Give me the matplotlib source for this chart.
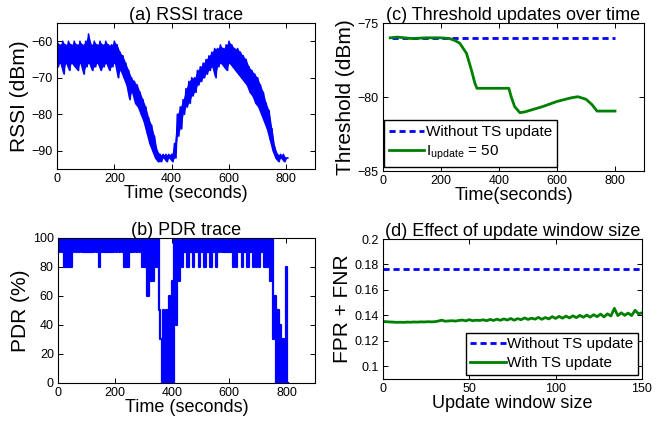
import numpy as np
import matplotlib
matplotlib.use("Agg")
import matplotlib.pyplot as plt

plt.rcParams["font.family"] = ["Liberation Sans", "DejaVu Sans"]
plt.rcParams["mathtext.fontset"] = "custom"
plt.rcParams["mathtext.rm"] = "Liberation Sans"

BLUE = "#0000ff"
GREEN = "#008000"

# (a) RSSI trace: upper / lower envelope read every 10 s
rssi_t = list(range(0, 801, 10))
rssi_hi = [-60, -61, -60, -61, -60, -61, -60, -61, -60, -61,
           -60, -58, -61, -60, -61, -60, -61, -60, -61, -61,
           -60, -61, -63, -64, -66, -68, -70, -71, -72, -74,
           -76, -78, -81, -83, -86, -90, -91, -91, -91, -91,
           -91, -88, -80, -78, -76, -73, -71, -70, -70, -68,
           -67, -66, -65, -64, -63, -62, -62, -61, -62, -61,
           -60, -61, -62, -62, -63, -64, -65, -67, -68, -69,
           -70, -72, -74, -77, -79, -84, -89, -91, -91, -91, -92]
rssi_lo = [-67, -66, -69, -66, -68, -66, -67, -68, -66, -69,
           -67, -66, -68, -67, -66, -68, -67, -66, -68, -67,
           -66, -70, -68, -70, -72, -76, -74, -77, -78, -80,
           -82, -85, -88, -90, -92, -93, -93, -92, -93, -92,
           -93, -92, -86, -84, -80, -78, -77, -75, -74, -72,
           -71, -70, -69, -68, -67, -70, -67, -66, -67, -68,
           -66, -67, -68, -69, -70, -71, -72, -74, -75, -77,
           -78, -80, -82, -84, -87, -90, -92, -93, -92, -93, -92]

# (b) PDR trace: upper / lower values read every 10 s
pdr_t = list(range(0, 801, 10))
pdr_hi = [100] * 36 + [30, 50, 50, 60, 70] + [100] * 35 + [60, 50, 40, 30, 80]
pdr_lo = [90, 90, 80, 80, 80, 90, 90, 90, 90, 90,
          90, 90, 90, 90, 80, 90, 90, 90, 90, 90,
          90, 90, 90, 80, 80, 90, 90, 90, 90, 80,
          80, 60, 70, 70, 80, 50, 0, 0, 0, 0,
          0, 40, 70, 80, 90, 80, 90, 80, 90, 80,
          90, 80, 90, 80, 90, 80, 90, 90, 90, 90,
          90, 80, 80, 90, 80, 90, 80, 90, 80, 80,
          80, 90, 80, 80, 70, 30, 0, 0, 0, 0, 0]

# (c) threshold over time
thr_t = [25, 50, 100, 150, 200, 230, 250, 265, 288, 305, 317, 324,
         380, 434, 442, 454, 472, 490, 550, 600, 650, 672, 700, 720, 738, 800]
thr_upd = [-76.0, -75.95, -76.05, -76.0, -76.0, -76.05, -76.2, -76.37, -77.05,
           -78.18, -79.07, -79.41, -79.41, -79.41, -79.98, -80.65, -81.06, -81.0,
           -80.65, -80.3, -80.05, -79.98, -80.15, -80.5, -80.95, -80.95]
thr_fixed_t = [30, 800]
thr_fixed = [-76.0, -76.0]

# (d) error vs update window size
win = list(range(0, 151, 2))
err_upd = [.1352, .1350, .1348, .1347, .1345, .1346, .1345, .1347, .1346, .1348,
           .1347, .1349, .1348, .1350, .1349, .1350, .1355, .1362, .1354, .1356,
           .1358, .1355, .1360, .1363, .1357, .1366, .1358, .1362, .1360, .1365,
           .1358, .1368, .1360, .1370, .1361, .1372, .1363, .1375, .1362, .1374,
           .1366, .1380, .1368, .1378, .1370, .1384, .1369, .1383, .1372, .1390,
           .1376, .1392, .1378, .1394, .1380, .1396, .1382, .1400, .1385, .1402,
           .1386, .1405, .1390, .1410, .1388, .1412, .1395, .1455, .1398, .1420,
           .1400, .1418, .1398, .1440, .1412, .1420]
err_fixed = 0.1763


def zigzag(t, hi, lo):
    # upper value at t, lower value half a bin later
    xs = np.column_stack([np.asarray(t), np.asarray(t) + 5]).ravel()
    ys = np.column_stack([hi, lo]).ravel()
    return xs, ys


def style(ax):
    ax.tick_params(direction="in", top=True, right=True, labelsize=9,
                   length=3.5, width=0.7, pad=3)
    for s in ax.spines.values():
        s.set_linewidth(0.8)


leg_kw = dict(fontsize=11, frameon=True, fancybox=False, edgecolor="black",
              framealpha=1, handlelength=2.3, handletextpad=0.1, borderpad=0.3,
              labelspacing=0.3, borderaxespad=0.1)

fig = plt.figure(figsize=(6.7, 4.21), dpi=100)

ax_a = fig.add_axes([0.0851, 0.5986, 0.385, 0.3468])
x, y = zigzag(rssi_t, rssi_hi, rssi_lo)
ax_a.fill_between(rssi_t, rssi_lo, rssi_hi, color=BLUE, lw=0)
ax_a.plot(x, y, color=BLUE, lw=1.2)
ax_a.set_xlim(0, 900)
ax_a.set_ylim(-95, -55)
ax_a.set_xticks([0, 200, 400, 600, 800])
ax_a.set_yticks([-90, -80, -70, -60])
ax_a.set_title("(a) RSSI trace", fontsize=13, pad=2)
ax_a.set_xlabel("Time (seconds)", fontsize=13, labelpad=0)
ax_a.set_ylabel("RSSI (dBm)", fontsize=15, labelpad=2)
style(ax_a)

ax_b = fig.add_axes([0.0866, 0.0903, 0.3836, 0.3444])
x, y = zigzag(pdr_t, pdr_hi, pdr_lo)
ax_b.plot(x, y, color=BLUE, lw=1.6, drawstyle="steps-mid")
ax_b.set_xlim(0, 900)
ax_b.set_ylim(0, 100)
ax_b.set_xticks([0, 200, 400, 600, 800])
ax_b.set_yticks([0, 20, 40, 60, 80, 100])
ax_b.set_title("(b) PDR trace", fontsize=13, pad=2)
ax_b.set_xlabel("Time (seconds)", fontsize=13, labelpad=0)
ax_b.set_ylabel("PDR (%)", fontsize=15, labelpad=2)
style(ax_b)

ax_c = fig.add_axes([0.5716, 0.5938, 0.3896, 0.3515])
ax_c.plot(thr_fixed_t, thr_fixed, "--", color=BLUE, lw=2, dashes=(2.2, 1.4),
          label="Without TS update")
ax_c.plot(thr_t, thr_upd, "-", color=GREEN, lw=2,
          label=r"$\mathregular{I_{update}}$ = 50")
ax_c.set_xlim(0, 900)
ax_c.set_ylim(-85, -75)
ax_c.set_xticks([0, 200, 400, 600, 800])
ax_c.set_yticks([-85, -80, -75])
ax_c.set_title("(c) Threshold updates over time", fontsize=13, pad=2)
ax_c.set_xlabel("Time(seconds)", fontsize=13, labelpad=0)
ax_c.set_ylabel("Threshold (dBm)", fontsize=15, labelpad=2)
ax_c.legend(loc="lower left", bbox_to_anchor=(0.0, 0.02), **leg_kw)
style(ax_c)

ax_d = fig.add_axes([0.5716, 0.0998, 0.3866, 0.3325])
ax_d.plot([win[0], win[-1]], [err_fixed, err_fixed], "--", color=BLUE, lw=2,
          dashes=(2.2, 1.4), label="Without TS update")
ax_d.plot(win, err_upd, "-", color=GREEN, lw=2, label="With TS update")
ax_d.set_xlim(0, 150)
ax_d.set_ylim(0.09, 0.2)
ax_d.set_xticks([0, 50, 100, 150])
ax_d.set_yticks([0.1, 0.12, 0.14, 0.16, 0.18, 0.2])
ax_d.set_yticklabels(["0.1", "0.12", "0.14", "0.16", "0.18", "0.2"])
ax_d.set_title("(d) Effect of update window size", fontsize=13, pad=2)
ax_d.set_xlabel("Update window size", fontsize=13, labelpad=0)
ax_d.set_ylabel("FPR + FNR", fontsize=15, labelpad=2)
ax_d.legend(loc="lower right", bbox_to_anchor=(0.99, 0.02), **leg_kw)
style(ax_d)

fig.savefig("out.png", dpi=100)
